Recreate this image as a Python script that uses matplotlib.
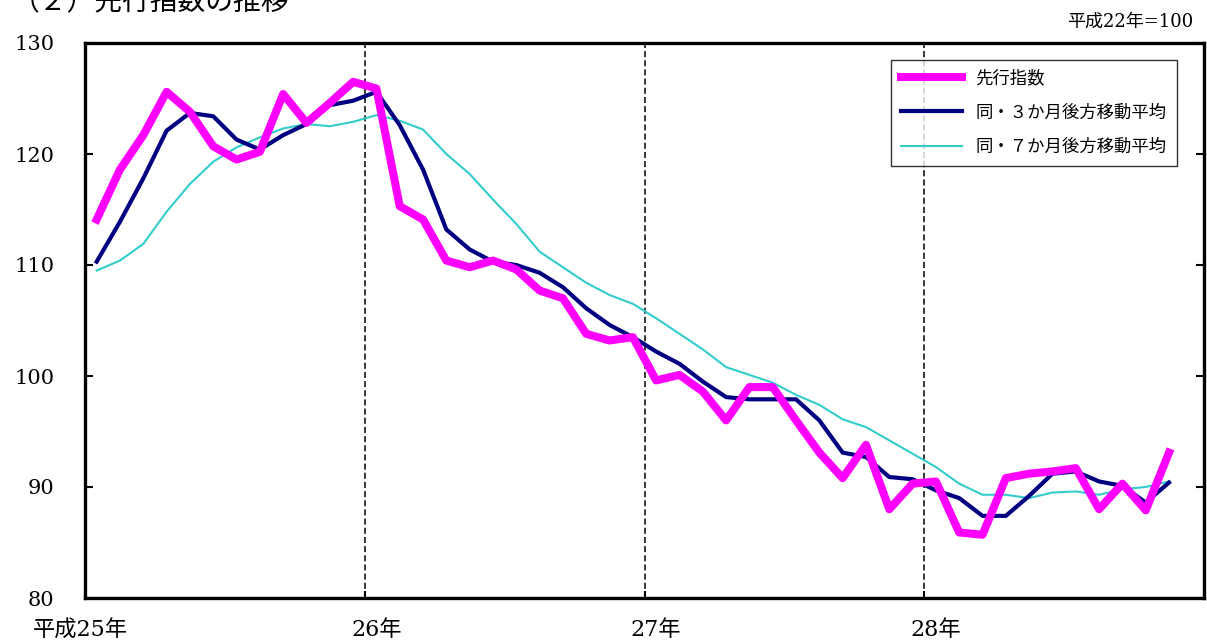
import matplotlib
matplotlib.use("Agg")
import matplotlib.pyplot as plt
import matplotlib.transforms as mtransforms

plt.rcParams['font.family'] = ['DejaVu Serif', 'Noto Sans CJK JP']

# 平成25年1月〜平成28年11月 (monthly)
leading = [114.1, 118.6, 121.7, 125.6, 123.8, 120.7, 119.5, 120.2, 125.4, 122.8, 124.6, 126.5,
           125.9, 115.3, 114.1, 110.4, 109.8, 110.4, 109.6, 107.7, 107.0, 103.8, 103.2, 103.5,
           99.6, 100.1, 98.6, 96.0, 99.0, 99.0, 96.0, 93.1, 90.8, 93.8, 88.0, 90.3,
           90.5, 85.9, 85.7, 90.8, 91.2, 91.4, 91.7, 88.0, 90.3, 87.9, 93.1]
ma3 = [110.3, 113.9, 117.8, 122.1, 123.7, 123.4, 121.3, 120.4, 121.7, 122.7, 124.4, 124.8,
       125.6, 122.6, 118.6, 113.2, 111.4, 110.3, 110.0, 109.3, 108.0, 106.1, 104.6, 103.5,
       102.2, 101.1, 99.5, 98.1, 97.9, 97.9, 97.9, 96.0, 93.1, 92.7, 90.9, 90.7,
       89.7, 89.0, 87.4, 87.4, 89.2, 91.2, 91.4, 90.5, 90.1, 88.6, 90.4]
ma7 = [109.5, 110.4, 111.9, 114.8, 117.3, 119.3, 120.6, 121.5, 122.3, 122.7, 122.5, 122.9,
       123.5, 123.0, 122.2, 120.0, 118.2, 115.9, 113.7, 111.2, 109.8, 108.4, 107.3, 106.5,
       105.2, 103.8, 102.4, 100.8, 100.1, 99.4, 98.3, 97.4, 96.1, 95.4, 94.2, 93.0,
       91.8, 90.3, 89.3, 89.3, 89.0, 89.5, 89.6, 89.3, 89.8, 90.0, 90.5]
year_labels = ["平成25年", "26年", "27年", "28年"]
yticks = [80, 90, 100, 110, 120, 130]

months = [i + 0.5 for i in range(len(leading))]

fig = plt.figure(figsize=(12.07, 6.40), dpi=100)
ax = fig.add_axes([85 / 1207, 42 / 640, 1119 / 1207, 555 / 640])

ax.plot(months, ma7, color="#33CCCC", lw=1.5, label="同・７か月後方移動平均", zorder=3)
ax.plot(months, ma3, color="#000080", lw=3.0, label="同・３か月後方移動平均", zorder=4)
ax.plot(months, leading, color="#FF00FF", lw=5.8, label="先行指数", zorder=5)

for k in (12, 24, 36):
    ax.axvline(k, color="black", lw=1.1, ls=(0, (4, 2)), zorder=2)

ax.set_xlim(0, 48)
ax.set_ylim(80, 130)
ax.set_yticks(yticks)
ax.set_yticklabels([str(v) for v in yticks], fontsize=15)
ax.set_xticks([0, 12, 24, 36, 48])
ax.set_xticklabels([])
ax.tick_params(axis="y", direction="in", length=6, width=1.5, right=True, pad=22)
ax.tick_params(axis="x", direction="in", length=5, width=1.5)
for s in ax.spines.values():
    s.set_linewidth(2.4)

trans = mtransforms.blended_transform_factory(ax.transData, ax.transAxes)
for i, lab in enumerate(year_labels):
    off = -0.2 if i == 0 else 0.5
    ax.text(i * 12 + off, -0.058, lab, transform=trans, ha="center", va="center", fontsize=16)

handles, labels = ax.get_legend_handles_labels()
leg = ax.legend(handles[::-1], labels[::-1], loc="upper right", bbox_to_anchor=(0.976, 0.97),
                borderaxespad=0, fontsize=12.5, frameon=True, fancybox=False, edgecolor="black",
                handlelength=3.5, labelspacing=1.0, borderpad=0.6, handletextpad=0.8)
leg.get_frame().set_linewidth(1.0)

# title sits partly above the top edge, as in the source figure
fig.text(12 / 1207, 1 - 3 / 640, "（２）先行指数の推移", fontsize=20, ha="left", va="center")
fig.text(1193 / 1207, 1 - 22 / 640, "平成22年=100", fontsize=13, ha="right", va="center")

fig.savefig("out.png", dpi=100)
